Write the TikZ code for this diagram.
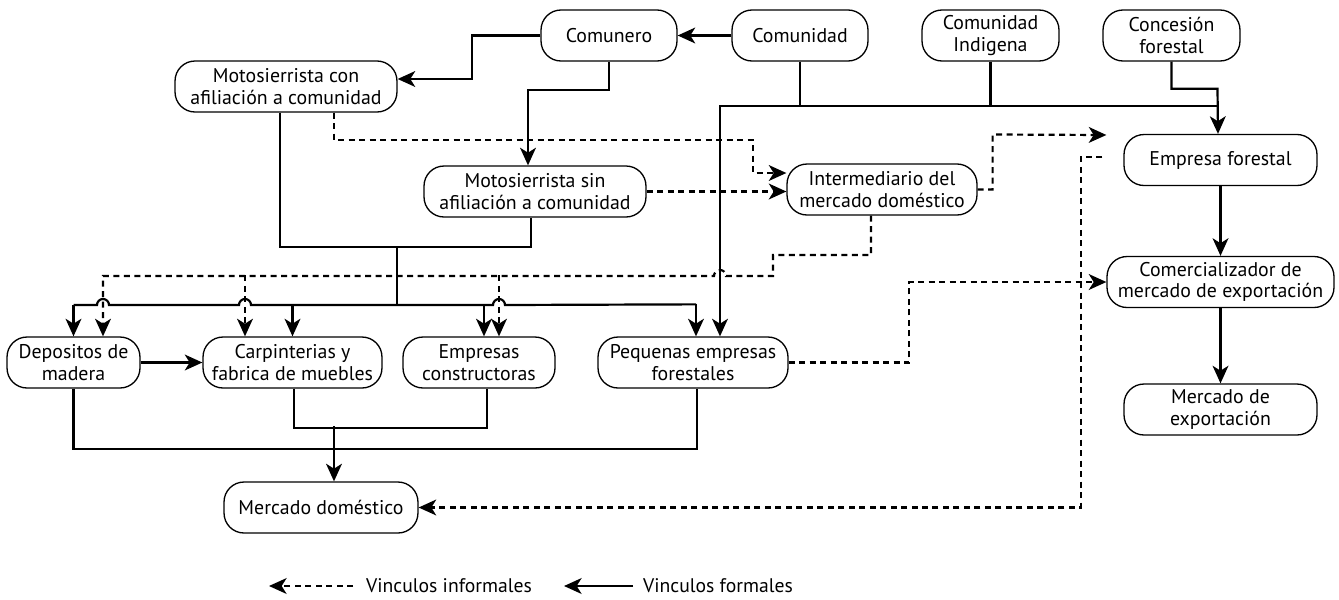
\documentclass[tikz,border=0pt]{standalone}
\usepackage{fontspec}
\setmainfont{PT Sans}
\usetikzlibrary{arrows.meta,positioning,calc}

\begin{document}
\begin{tikzpicture}[x=0.02cm, y=-0.02cm,
  box/.style={draw, line width=0.75pt, rounded corners=0.4cm, align=center,
              minimum height=1.02cm, inner sep=2pt,
              font=\fontsize{11.3}{12.2}\selectfont},
  link/.style={line width=1.25pt},
  formal/.style={link, -{Stealth[length=10pt, width=9pt, inset=2.8pt]}},
  informal/.style={formal, dash pattern=on 0.12cm off 0.09cm}]
  \useasboundingbox (0,0) rectangle (1339,599);

  % actors
  \node[box, minimum width=2.72cm] (comunero)  at (609,35.5)    {Comunero};
  \node[box, minimum width=2.72cm] (comunidad) at (800,35.5)    {Comunidad};
  \node[box, minimum width=2.74cm] (indigena)  at (990.5,35.5)  {Comunidad\\Indigena};
  \node[box, minimum width=2.74cm] (concesion) at (1171.5,35.5) {Concesión\\forestal};
  \node[box, minimum width=4.44cm] (mconaf)    at (286,86.5)    {Motosierrista con\\afiliación a comunidad};
  \node[box, minimum width=4.44cm] (msinaf)    at (535,191.5)   {Motosierrista sin\\afiliación a comunidad};
  \node[box, minimum width=3.8cm]  (interm)    at (882,189.5)   {Intermediario del\\mercado doméstico};
  \node[box, minimum width=3.86cm] (empresa)   at (1220.5,160)  {Empresa forestal};
  \node[box, minimum width=4.54cm] (comerc)    at (1220.5,282)  {Comercializador de\\mercado de exportación};
  \node[box, minimum width=3.86cm] (mexport)   at (1220.5,409.5) {Mercado de\\exportación};
  \node[box, minimum width=2.66cm] (depositos) at (73.5,362.5)  {Depositos de\\madera};
  \node[box, minimum width=3.58cm] (carpint)   at (292.5,362.5) {Carpinterias y\\fabrica de muebles};
  \node[box, minimum width=3.04cm] (constr)    at (479,362.5)   {Empresas\\constructoras};
  \node[box, minimum width=3.8cm]  (pequenas)  at (693,362.5)   {Pequenas empresas\\forestales};
  \node[box, minimum width=3.88cm] (mdom)      at (321,507.5)   {Mercado doméstico};

  % formal links, top
  \draw[formal] (comunidad) -- (comunero);
  \draw[formal] (comunero.west) -- ++(-68,0) |- ($(mconaf.east)+(0,-7.5)$);
  \draw[formal] (comunero.south) -- ++(0,28) -| ($(msinaf.north)+(-7,0)$);
  \draw[link] (comunidad.south) -- ++(0,44);
  \draw[link] (indigena.south) -- ++(0,44);
  \draw[formal] ($(empresa.north)+(-2.5,-28)$) -- ++(-498,0) -- ($(pequenas.north)+(27,0)$);
  \draw[formal] (concesion.south) |- ++(46,27) -- ($(empresa.north)+(-2.5,0)$);
  \draw[formal] (empresa) -- (comerc);
  \draw[formal] (comerc) -- (mexport);
  \draw[formal] (depositos) -- (carpint);

  % formal links, motosierristas to buyers
  \coordinate (join) at (397,247);
  \draw[link] ($(mconaf.south)+(-6,0)$) |- (join) -| ($(msinaf.south)+(-4,0)$);
  \draw[link] (join) -- ++(0,58) coordinate (bus);
  \draw[link] ($(pequenas.north)+(3,-32)$) -- (505,305)
    arc[start angle=0, end angle=180, radius=0.12cm] -- (251,305)
    arc[start angle=0, end angle=180, radius=0.12cm] -- (109,305)
    arc[start angle=0, end angle=180, radius=0.12cm] -- (depositos.north |- bus);
  \draw[formal] (depositos.north |- bus) -- (depositos.north);
  \draw[formal] (carpint.north |- bus) -- (carpint.north);
  \draw[formal] ($(constr.north)+(5,-32)$) -- ($(constr.north)+(5,0)$);
  \draw[formal] ($(pequenas.north)+(3,-32)$) -- ($(pequenas.north)+(3,0)$);

  % formal links, to domestic market
  \draw[link] (depositos.south) -- ++(0,60) -| ($(pequenas.south)+(4,0)$);
  \draw[link] ($(carpint.south)+(1.5,0)$) -- ++(0,39) -| ($(constr.south)+(8,0)$);
  \draw[formal] ($(mdom.north)+(13,-55)$) -- ($(mdom.north)+(13,0)$);

  % informal links
  \draw[informal] ($(mconaf.south)+(48,0)$) |- (753,140) |- ($(interm.west)+(0,-16.5)$);
  \draw[informal] (msinaf.east) -- (msinaf.east -| interm.west);
  \draw[informal] (interm.east) -| ++(15,-55) -- ($(empresa.west)+(-17,-25)$);
  \draw[informal] ($(interm.south)+(-11,0)$) |- (773,255) |- (726,276)
    arc[start angle=0, end angle=180, radius=0.12cm] -- (103,276)
    -- ($(depositos.north)+(29.5,0)$);
  \draw[informal] ($(carpint.north)+(-47.5,-61)$) -- ($(carpint.north)+(-47.5,0)$);
  \draw[informal] ($(constr.north)+(20,-61)$) -- ($(constr.north)+(20,0)$);
  \draw[informal] (pequenas.east) -| ($(comerc.west)+(-197,0)$) -- (comerc.west);
  \draw[informal] ($(empresa.west)+(-21,-3)$) -| ($(mdom.east)+(662,0)$) -- (mdom.east);

  % legend
  \node[anchor=west, font=\fontsize{11.2}{12}\selectfont] (leginf) at (360,586) {Vinculos informales};
  \node[anchor=west, font=\fontsize{11.2}{12}\selectfont] (legfor) at (637,586) {Vinculos formales};
  \draw[informal] ($(leginf.west)+(-7,0)$) -- ++(-84,0);
  \draw[formal] ($(legfor.west)+(-4,0)$) -- ++(-69,0);
\end{tikzpicture}
\end{document}
